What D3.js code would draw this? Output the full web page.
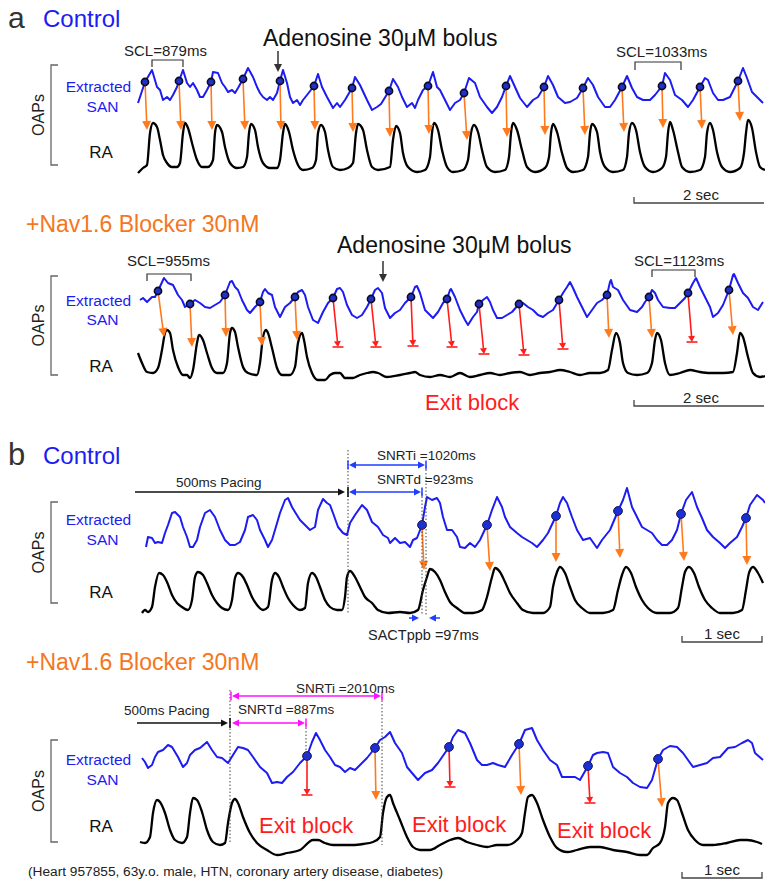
<!DOCTYPE html>
<html><head><meta charset="utf-8">
<script src="https://cdnjs.cloudflare.com/ajax/libs/d3/7.8.5/d3.min.js"></script>
<style>body{margin:0;background:#fff}svg{display:block}</style>
</head><body><svg id="c" width="765" height="882"></svg>
<script>
// ===== DATA (time in camera frames, amplitude in arbitrary fluorescence units) =====
// Panel a – Control
const sanA1 = [[0,12],[7,33],[14,45],[19,28],[22,25],[25,15],[29,18],[32,15],[35,20],[39,28],[41,34],[45,45],[49,32],[52,28],[55,32],[59,25],[62,18],[65,18],[69,25],[73,33],[75,43],[80,42],[84,32],[87,28],[90,23],[94,25],[97,22],[100,27],[105,36],[110,47],[115,38],[119,28],[122,22],[125,18],[129,15],[132,18],[135,15],[139,22],[142,34],[145,45],[149,32],[152,18],[155,12],[159,15],[162,10],[165,15],[169,20],[176,29],[180,41],[184,28],[189,18],[195,7],[199,12],[202,8],[207,15],[214,27],[217,38],[222,30],[229,15],[234,5],[239,8],[243,11],[251,24],[255,36],[260,28],[264,18],[269,8],[274,12],[277,7],[280,15],[285,25],[290,29],[295,43],[299,28],[302,25],[307,15],[312,5],[317,12],[322,15],[326,22],[331,37],[337,32],[342,18],[349,8],[354,2],[359,8],[364,18],[368,29],[372,39],[377,28],[382,17],[389,8],[395,15],[400,18],[406,28],[410,39],[415,30],[420,18],[427,12],[432,13],[439,17],[445,27],[450,37],[455,30],[460,18],[467,8],[472,8],[477,15],[484,28],[489,39],[494,27],[499,18],[505,15],[512,15],[517,20],[524,29],[527,42],[532,35],[537,20],[544,15],[550,8],[555,15],[562,28],[567,37],[570,35],[575,22],[580,15],[585,15],[592,18],[600,34],[605,47],[609,37],[614,23],[619,18],[625,12]];
const raA1 = [[0,2],[5,7],[9,10],[12,42],[15,52],[19,48],[22,35],[25,20],[29,12],[34,8],[39,8],[42,12],[45,42],[47,52],[50,47],[54,32],[59,15],[64,8],[70,8],[75,15],[77,42],[79,50],[84,43],[87,28],[92,12],[99,7],[105,8],[109,18],[111,42],[113,51],[117,45],[120,28],[125,12],[132,7],[139,7],[142,15],[145,42],[147,51],[151,43],[155,25],[160,10],[165,5],[174,7],[178,15],[180,42],[183,50],[187,43],[190,25],[195,8],[202,5],[210,7],[215,12],[218,42],[220,51],[225,45],[229,25],[234,8],[240,5],[252,8],[255,35],[258,49],[262,42],[265,22],[270,8],[279,3],[287,5],[292,18],[294,42],[296,52],[300,45],[304,25],[309,8],[315,3],[325,5],[330,15],[333,42],[336,50],[340,43],[344,25],[349,8],[357,3],[367,5],[371,18],[373,42],[375,52],[379,45],[384,25],[389,8],[397,3],[407,7],[411,18],[413,42],[415,51],[419,43],[424,22],[429,7],[435,3],[445,5],[450,18],[452,42],[454,51],[459,43],[462,23],[467,8],[475,3],[485,5],[489,18],[491,42],[494,52],[498,45],[502,23],[507,8],[515,3],[524,7],[528,18],[530,42],[532,53],[535,45],[540,23],[544,8],[552,3],[562,5],[567,18],[569,42],[572,52],[575,45],[579,23],[584,8],[592,3],[602,7],[606,22],[608,42],[610,55],[614,47],[618,23],[622,8],[627,5]];
const dotsA1 = [[7,33],[41,34],[73,33],[105,36],[142,34],[176,29],[214,27],[251,24],[290,29],[326,22],[368,29],[406,28],[445,27],[484,28],[524,29],[562,28],[600,34]];
const endsA1 = [[9,45,1],[43,45,1],[74,45,1],[107,45,1],[143,45,1],[177,45,1],[215,43,1],[252,38,1],[291,41,1],[329,35,1],[369,38,1],[407,40,1],[447,40,1],[486,43,1],[525,47,1],[564,46,1],[602,54,1]];

// Panel a – +Nav1.6 blocker
const sanA2 = [[2,30],[5,32],[9,28],[14,33],[17,33],[20,39],[25,50],[26,52],[30,47],[35,45],[40,35],[44,30],[47,23],[52,26],[57,30],[62,27],[67,23],[72,22],[77,25],[82,28],[87,35],[92,48],[94,49],[97,43],[100,40],[104,30],[109,20],[112,17],[117,23],[122,28],[125,38],[127,41],[130,37],[134,35],[137,23],[142,13],[147,23],[152,27],[157,33],[160,38],[164,40],[167,35],[170,23],[175,10],[180,7],[185,18],[190,27],[195,32],[199,41],[202,42],[205,38],[209,25],[214,15],[219,12],[224,15],[229,23],[233,31],[237,40],[240,42],[244,37],[247,22],[252,12],[257,17],[262,20],[267,27],[273,33],[277,43],[279,44],[282,37],[287,20],[292,15],[295,12],[300,18],[305,27],[309,31],[312,40],[313,41],[317,33],[322,20],[327,10],[330,5],[335,13],[339,18],[341,26],[345,30],[349,33],[352,28],[355,20],[359,12],[364,12],[369,15],[374,18],[381,26],[385,27],[390,23],[395,20],[400,15],[405,13],[410,17],[415,20],[421,30],[425,37],[429,43],[432,48],[435,42],[439,33],[444,23],[449,13],[454,20],[459,27],[464,30],[469,35],[472,48],[473,50],[475,43],[480,40],[485,30],[492,20],[499,18],[504,23],[507,28],[511,33],[514,40],[517,37],[520,30],[525,23],[532,22],[537,22],[542,27],[547,32],[550,37],[555,47],[558,52],[562,43],[567,33],[572,23],[575,13],[580,17],[585,25],[591,40],[595,55],[596,56],[600,47],[605,37],[610,32],[615,23],[620,20],[625,28]];
const raA2 = [[0,32],[4,22],[9,13],[15,12],[20,17],[24,35],[27,52],[29,55],[32,52],[35,35],[40,18],[45,10],[49,10],[52,7],[55,15],[59,42],[61,50],[65,45],[69,32],[74,17],[79,12],[85,12],[89,22],[92,52],[94,57],[97,53],[100,38],[105,18],[110,12],[119,10],[122,22],[125,48],[128,55],[130,52],[134,37],[139,17],[144,10],[152,10],[157,18],[160,42],[164,52],[166,45],[169,28],[174,12],[180,5],[187,5],[192,10],[197,12],[202,12],[207,7],[215,7],[222,10],[229,12],[235,13],[240,12],[249,8],[262,10],[272,12],[277,13],[282,10],[292,8],[302,10],[312,8],[322,12],[332,8],[342,10],[352,12],[362,10],[372,12],[382,13],[392,10],[402,12],[412,13],[422,15],[432,13],[442,10],[452,12],[462,12],[470,15],[474,35],[478,52],[482,42],[485,22],[490,12],[499,10],[509,12],[514,22],[517,45],[519,52],[523,45],[527,22],[532,10],[542,12],[552,15],[562,13],[572,12],[585,12],[595,13],[599,32],[602,52],[605,48],[610,28],[615,12],[622,8],[627,9]];
const dotsA2 = [[20,39],[52,26],[87,35],[122,28],[157,33],[195,32],[233,31],[273,33],[309,31],[341,26],[381,26],[421,30],[469,35],[511,33],[550,37],[591,40]];
const endsA2 = [[26,48,1],[54,38,1],[88,48,1],[124,39,1],[159,45,1],[200,38,0],[238,38,0],[275,39,0],[314,38,0],[346,31,0],[386,30,0],[425,36,0],[471,47,1],[514,47,1],[554,43,0],[595,50,1]];

// Panel b – Control
const sanB1 = [[8,3],[10,13],[14,12],[17,7],[20,8],[24,7],[27,17],[30,25],[34,37],[37,38],[42,33],[45,23],[49,13],[52,3],[55,3],[59,10],[62,23],[67,37],[72,40],[77,33],[82,20],[87,10],[92,5],[97,5],[102,8],[107,20],[110,33],[115,35],[119,30],[122,20],[127,10],[130,3],[134,10],[137,20],[142,37],[147,50],[150,52],[154,43],[157,38],[162,30],[167,25],[172,20],[177,23],[180,40],[185,51],[189,47],[192,45],[195,37],[200,23],[205,17],[209,15],[212,27],[217,35],[224,45],[229,40],[234,28],[240,23],[245,15],[250,12],[252,7],[257,12],[262,7],[267,8],[272,3],[275,10],[279,12],[284,25],[287,43],[289,53],[294,50],[299,52],[302,47],[305,33],[309,20],[314,20],[319,13],[322,3],[327,2],[332,7],[337,3],[342,10],[349,25],[354,40],[359,53],[364,43],[367,33],[372,23],[379,17],[384,13],[389,10],[394,7],[399,3],[405,10],[410,17],[418,34],[422,47],[425,53],[429,47],[434,33],[439,20],[445,10],[452,12],[459,2],[464,10],[472,20],[480,39],[485,50],[489,62],[494,43],[499,33],[504,23],[509,20],[514,17],[519,10],[524,5],[529,5],[534,10],[539,20],[543,36],[548,50],[554,58],[559,43],[564,32],[569,20],[575,13],[582,7],[587,2],[592,7],[599,13],[604,23],[608,32],[612,45],[619,55],[625,50],[627,47]];
const raB1 = [[4,2],[7,5],[10,3],[14,8],[17,28],[21,42],[25,40],[29,33],[34,20],[39,12],[44,8],[50,5],[54,15],[57,38],[60,43],[65,40],[69,32],[74,20],[79,12],[84,7],[90,5],[94,15],[97,37],[100,42],[105,38],[109,30],[114,18],[119,10],[125,5],[130,8],[134,35],[137,42],[141,38],[145,28],[150,17],[155,10],[162,5],[167,7],[170,32],[174,42],[178,38],[182,28],[187,15],[192,8],[199,5],[204,5],[207,18],[209,38],[212,44],[217,38],[222,28],[227,18],[234,12],[240,5],[250,2],[262,3],[272,2],[280,5],[285,25],[289,38],[292,46],[297,43],[302,35],[307,23],[312,13],[319,7],[327,2],[335,2],[344,5],[349,18],[354,38],[357,47],[362,43],[367,33],[372,22],[379,12],[385,5],[395,2],[405,2],[412,8],[415,28],[419,43],[422,48],[427,42],[432,28],[437,15],[444,7],[452,2],[465,2],[475,5],[480,25],[484,40],[488,48],[493,42],[498,28],[504,15],[510,7],[519,2],[532,2],[540,7],[544,28],[547,43],[551,48],[556,42],[561,28],[567,15],[574,7],[582,2],[595,2],[604,5],[608,25],[611,42],[615,48],[620,42],[625,32]];
const dotsB1 = [[284,25],[349,25],[418,34],[480,39],[543,36],[608,32]];
const endsB1 = [[286,45,1],[352,44,1],[418,53,1],[482,57,1],[546,54,1],[609,50,1]];

// Panel b – +Nav1.6 blocker
const sanB2 = [[4,32],[7,28],[10,22],[14,25],[17,33],[20,38],[25,40],[30,45],[34,43],[37,38],[40,33],[45,23],[49,27],[52,35],[57,40],[62,42],[69,48],[74,40],[79,33],[84,32],[90,27],[95,35],[100,43],[105,42],[110,40],[115,33],[122,23],[129,17],[134,7],[139,8],[144,7],[149,13],[155,18],[162,27],[169,34],[174,48],[178,57],[182,50],[187,40],[192,33],[197,25],[202,23],[207,18],[212,22],[217,20],[222,25],[229,32],[237,42],[242,50],[247,53],[252,58],[257,47],[264,37],[269,23],[274,17],[280,10],[287,17],[294,20],[300,27],[311,43],[315,53],[320,60],[327,57],[332,47],[339,30],[344,25],[349,25],[355,27],[360,25],[367,23],[374,35],[381,46],[387,60],[394,62],[399,50],[405,40],[412,30],[419,25],[424,13],[430,13],[437,13],[442,10],[450,24],[455,35],[459,37],[465,38],[470,37],[475,23],[482,17],[489,13],[495,7],[502,3],[509,2],[514,10],[520,31],[525,40],[532,44],[539,43],[545,37],[550,30],[555,23],[562,25],[569,27],[575,32],[582,33],[590,42],[597,43],[604,47],[610,50],[614,47],[617,37],[625,30]];
const raB2 = [[2,16],[7,15],[12,21],[15,45],[19,58],[22,56],[27,45],[32,28],[37,18],[44,15],[49,21],[52,45],[55,60],[59,58],[64,46],[69,28],[75,16],[82,13],[87,15],[90,35],[94,55],[97,59],[100,55],[105,41],[112,25],[119,15],[129,8],[139,3],[149,5],[162,8],[175,18],[180,18],[187,15],[195,13],[205,13],[215,13],[225,14],[235,16],[242,21],[245,45],[249,61],[252,63],[255,55],[262,38],[269,21],[275,11],[282,8],[292,8],[302,13],[312,18],[320,20],[329,16],[339,13],[349,11],[359,13],[369,13],[379,18],[384,25],[387,45],[390,61],[394,63],[399,55],[405,38],[412,21],[419,10],[429,6],[439,8],[452,11],[462,11],[475,8],[489,6],[502,3],[509,3],[515,10],[522,15],[527,31],[530,55],[535,60],[539,58],[544,45],[550,28],[557,18],[565,13],[575,13],[589,15],[602,18],[609,18],[619,16],[624,14]];
const dotsB2 = [[169,34],[237,42],[311,43],[381,46],[450,24],[520,31]];
const endsB2 = [[169,63,0],[238,58,1],[312,71,0],[383,63,1],[452,55,0],[524,51,1]];

// Timebase and annotations (frames)
const msPerFrameA = 2000 / 130, msPerFrameB = 1000 / 80;
const totalFrames = 627;
const scaleBarA = {startFrame: 496, ms: 2000, label: "2 sec"};
const scaleBarB = {startFrame: 544, ms: 1000, label: "1 sec"};
const sclA1 = [{from: 14, to: 45, label: "SCL=879ms"}, {from: 497, to: 543, label: "SCL=1033ms"}];
const sclA2 = [{from: 9, to: 53, label: "SCL=955ms"}, {from: 514, to: 557, label: "SCL=1123ms"}];
const adenosineFrame = [140, 245];
const pacingB1 = {from: -3, to: 209}, snrtiB1 = {from: 209, to: 288, label: "SNRTi =1020ms"}, snrtdB1 = {from: 209, to: 284, label: "SNRTd =923ms"};
const sactB1 = {from: 284, to: 288, label: "SACTppb =97ms"};
const pacingB2 = {from: -1, to: 92}, snrtiB2 = {from: 92, to: 244, label: "SNRTi =2010ms"}, snrtdB2 = {from: 92, to: 168, label: "SNRTd =887ms"};

// ===== DRAWING =====
const FONT = '"Liberation Sans", Arial, Helvetica, sans-serif';
const BLUE = "#1c1cf2", ORANGE = "#ff7a1c", RED = "#ff1c1c", MAG = "#ff10ff", HEAD_OR = "#f5761e";
const svg = d3.select("#c");

function text(x, y, s, size, color, anchor, rot) {
  const t = svg.append("text").attr("x", x).attr("y", y).text(s)
    .attr("font-family", FONT).attr("font-size", size).attr("fill", color)
    .attr("text-anchor", anchor || "start");
  if (rot) t.attr("transform", `rotate(${rot},${x},${y})`);
  return t;
}
function head(g, tx, ty, fx, fy, len, hw, color) {
  const dx = tx - fx, dy = ty - fy, L = Math.hypot(dx, dy), ux = dx / L, uy = dy / L;
  const bx = tx - ux * len, by = ty - uy * len, px = -uy, py = ux;
  g.append("path").attr("d", `M${tx},${ty}L${bx + px * hw},${by + py * hw}L${bx - px * hw},${by - py * hw}Z`).attr("fill", color);
  return [bx, by];
}
function makeX(msPerFrame) {
  return d3.scaleLinear().domain([0, totalFrames * msPerFrame]).range([138, 765]);
}

function panel(cfg) {
  const g = svg.append("g");
  const x = makeX(cfg.mpf);
  const fx = f => x(f * cfg.mpf);
  const yS = d3.scaleLinear().domain([0, 60]).range([cfg.sanBase, cfg.sanBase - 60]);
  const yR = d3.scaleLinear().domain([0, 60]).range([cfg.raBase, cfg.raBase - 60]);
  g.append("path").datum(cfg.san).attr("fill", "none").attr("stroke", BLUE).attr("stroke-width", 2)
    .attr("stroke-linejoin", "round")
    .attr("d", d3.line().x(d => fx(d[0])).y(d => yS(d[1])).curve(d3.curveLinear));
  g.append("path").datum(cfg.ra).attr("fill", "none").attr("stroke", "#000").attr("stroke-width", 2.3)
    .attr("stroke-linejoin", "round")
    .attr("d", d3.line().x(d => fx(d[0])).y(d => yR(d[1])).curve(d3.curveMonotoneX));
  cfg.dots.forEach((d, i) => {
    const e = cfg.ends[i];
    const x1 = fx(d[0]), y1 = yS(d[1]), x2 = fx(e[0]), y2 = yR(e[1]);
    if (e[2]) {
      const b = head(g, x2, y2, x1, y1, 9, 4.5, ORANGE);
      g.append("line").attr("x1", x1).attr("y1", y1).attr("x2", b[0]).attr("y2", b[1]).attr("stroke", ORANGE).attr("stroke-width", 1.6);
    } else {
      const b = head(g, x2, y2, x1, y1, 6, 3.5, RED);
      g.append("line").attr("x1", x1).attr("y1", y1).attr("x2", b[0]).attr("y2", b[1]).attr("stroke", RED).attr("stroke-width", 1.6);
      g.append("line").attr("x1", x2 - 5.5).attr("x2", x2 + 5.5).attr("y1", y2).attr("y2", y2).attr("stroke", RED).attr("stroke-width", 1.6);
    }
  });
  g.selectAll("circle.dot").data(cfg.dots).join("circle").attr("class", "dot")
    .attr("cx", d => fx(d[0])).attr("cy", d => yS(d[1])).attr("r", cfg.dotR)
    .attr("fill", cfg.dotFill).attr("stroke", cfg.dotStroke).attr("stroke-width", cfg.dotSW);
  const by = cfg.bracket;
  g.append("path").attr("d", `M58,${by[0]}H51V${by[1]}H58`).attr("fill", "none").attr("stroke", "#666").attr("stroke-width", 1.3);
  text(38, (by[0] + by[1]) / 2, "OAPs", 16, "#222", "middle", -90).attr("dy", "0.35em");
  text(98.5, cfg.labY[0], "Extracted", 15.5, BLUE, "middle");
  text(102.5, cfg.labY[1], "SAN", 15.5, BLUE, "middle");
  text(101, cfg.labY[2], "RA", 17, "#111", "middle");
  const sb = cfg.scaleBar, sx1 = fx(sb.startFrame), sx2 = x(sb.startFrame * cfg.mpf + sb.ms);
  g.append("path").attr("d", `M${sx1},${cfg.sbY - 6}V${cfg.sbY}H${sx2}` + (cfg.sbRightTick ? `V${cfg.sbY - 6}` : ""))
    .attr("fill", "none").attr("stroke", "#444").attr("stroke-width", 1.3);
  text((sx1 + Math.min(sx2, 765)) / 2 + (cfg.sbRightTick ? 0 : 2), cfg.sbY - 3.5, sb.label, 15, "#222", "middle");
  return {g, fx, yS, yR};
}

const pA1 = panel({san: sanA1, ra: raA1, dots: dotsA1, ends: endsA1, mpf: msPerFrameA, sanBase: 115, raBase: 175,
  dotR: 3.6, dotFill: "#2030c8", dotStroke: "#0a0a20", dotSW: 1.6, bracket: [65, 165], labY: [92, 112, 158],
  scaleBar: scaleBarA, sbY: 203, sbRightTick: false});
const pA2 = panel({san: sanA2, ra: raA2, dots: dotsA2, ends: endsA2, mpf: msPerFrameA, sanBase: 330, raBase: 385,
  dotR: 3.6, dotFill: "#2030c8", dotStroke: "#0a0a20", dotSW: 1.6, bracket: [276, 375], labY: [306, 325, 372],
  scaleBar: scaleBarA, sbY: 406, sbRightTick: false});
const pB1 = panel({san: sanB1, ra: raB1, dots: dotsB1, ends: endsB1, mpf: msPerFrameB, sanBase: 550, raBase: 615,
  dotR: 4.4, dotFill: "#1b2fd6", dotStroke: "#1a1a50", dotSW: 1, bracket: [502, 603], labY: [525, 545, 598],
  scaleBar: scaleBarB, sbY: 642, sbRightTick: true});
const pB2 = panel({san: sanB2, ra: raB2, dots: dotsB2, ends: endsB2, mpf: msPerFrameB, sanBase: 790, raBase: 858,
  dotR: 4.4, dotFill: "#1b2fd6", dotStroke: "#1a1a50", dotSW: 1, bracket: [740, 842], labY: [765, 785, 832],
  scaleBar: scaleBarB, sbY: 878, sbRightTick: true});

// headers
text(8, 28, "a", 30, "#333");
text(43, 27, "Control", 24, BLUE);
text(26, 232, "+Nav1.6 Blocker 30nM", 23, HEAD_OR);
text(8, 465, "b", 31, "#333");
text(43, 464, "Control", 24, BLUE);
text(26, 670, "+Nav1.6 Blocker 30nM", 23, HEAD_OR);

[[pA1, 0, 263, 46, 51, 72], [pA2, 1, 337, 253, 261, 282]].forEach(([p, i, tx, ty, y1, y2]) => {
  text(tx, ty, "Adenosine 30\u03bcM bolus", 23, "#111");
  const ax = p.fx(adenosineFrame[i]);
  const b = head(svg, ax, y2, ax, y1, 8, 4, "#333");
  svg.append("line").attr("x1", ax).attr("x2", ax).attr("y1", y1).attr("y2", b[1]).attr("stroke", "#333").attr("stroke-width", 1.5);
});
function scl(p, s, textX, textY, yTop, yBot) {
  const x1 = p.fx(s.from), x2 = p.fx(s.to);
  svg.append("path").attr("d", `M${x1},${yBot}V${yTop}H${x2}V${yBot}`).attr("fill", "none").attr("stroke", "#333").attr("stroke-width", 1.2);
  text(textX, textY, s.label, 15, "#222");
}
scl(pA1, sclA1[0], 124, 56, 60, 67);
scl(pA1, sclA1[1], 616, 57, 62, 70);
scl(pA2, sclA2[0], 127, 266, 274, 281);
scl(pA2, sclA2[1], 634, 266, 270, 277);

text(425, 410, "Exit block", 22, RED);
text(259, 833, "Exit block", 22, RED);
text(412, 832, "Exit block", 22, RED);
text(557, 838, "Exit block", 22, RED);

function dim(x1, x2, y, color, leftHead, rightHead, barL, barR) {
  let a = x1, b = x2;
  if (leftHead) { head(svg, x1, y, x2, y, 7, 3.6, color); a = x1 + 6; }
  if (rightHead) { head(svg, x2, y, x1, y, 7, 3.6, color); b = x2 - 6; }
  svg.append("line").attr("x1", a).attr("x2", b).attr("y1", y).attr("y2", y).attr("stroke", color).attr("stroke-width", 1.5);
  if (barL) svg.append("line").attr("x1", x1 - 1).attr("x2", x1 - 1).attr("y1", y - 4.5).attr("y2", y + 4.5).attr("stroke", color).attr("stroke-width", 1.5);
  if (barR) svg.append("line").attr("x1", x2 + 1).attr("x2", x2 + 1).attr("y1", y - 4.5).attr("y2", y + 4.5).attr("stroke", color).attr("stroke-width", 1.5);
}
function vdot(x, y1, y2) {
  svg.append("line").attr("x1", x).attr("x2", x).attr("y1", y1).attr("y2", y2)
    .attr("stroke", "#444").attr("stroke-width", 1).attr("stroke-dasharray", "1.5,2");
}
const SBLUE = "#1f3cff";
vdot(pB1.fx(pacingB1.to) + 1, 450, 614);
vdot(pB1.fx(snrtdB1.to), 493, 615);
vdot(pB1.fx(snrtiB1.to), 466, 615);
dim(pB1.fx(pacingB1.from), pB1.fx(pacingB1.to) - 2, 492, "#111", false, true, false, false);
svg.append("line").attr("x1", pB1.fx(pacingB1.to) + 1).attr("x2", pB1.fx(pacingB1.to) + 1).attr("y1", 487).attr("y2", 497).attr("stroke", "#111").attr("stroke-width", 1.6);
dim(pB1.fx(snrtiB1.from) + 2, pB1.fx(snrtiB1.to) - 1, 465, SBLUE, true, true, true, true);
dim(pB1.fx(snrtdB1.from) + 2, pB1.fx(snrtdB1.to) - 1, 492, SBLUE, true, true, false, true);
text(377, 460, snrtiB1.label, 13.5, "#222");
text(377, 484, snrtdB1.label, 13.5, "#222");
{ const xa = pB1.fx(sactB1.from), xb = pB1.fx(sactB1.to);
  dim(xa - 13, xa - 3, 618, SBLUE, false, true, false, false);
  dim(xb + 3, xb + 14, 618, SBLUE, true, false, false, false);
  text(368, 640, sactB1.label, 14.5, "#222"); }
text(176, 487, "500ms Pacing", 13.5, "#222");

vdot(pB2.fx(pacingB2.to), 690, 843);
vdot(pB2.fx(snrtdB2.to), 724, 757);
vdot(pB2.fx(snrtiB2.to), 697, 845);
dim(pB2.fx(pacingB2.from), pB2.fx(pacingB2.to) - 2, 723, "#111", false, true, false, false);
svg.append("line").attr("x1", pB2.fx(pacingB2.to)).attr("x2", pB2.fx(pacingB2.to)).attr("y1", 718).attr("y2", 728).attr("stroke", "#111").attr("stroke-width", 1.6);
dim(pB2.fx(snrtiB2.from) + 2, pB2.fx(snrtiB2.to) - 1, 696, MAG, true, true, true, true);
dim(pB2.fx(snrtdB2.from) + 2, pB2.fx(snrtdB2.to) - 1, 723, MAG, true, true, false, true);
text(296, 693, snrtiB2.label, 13.5, "#222");
text(238, 714, snrtdB2.label, 13.5, "#222");
text(124, 715, "500ms Pacing", 13.5, "#222");

text(28, 876, "(Heart 957855, 63y.o. male, HTN, coronary artery disease, diabetes)", 13.7, "#222");
</script></body></html>
